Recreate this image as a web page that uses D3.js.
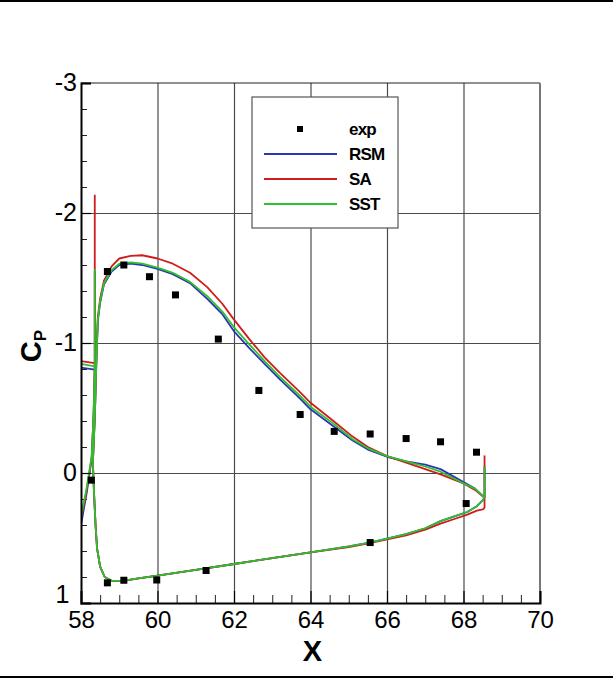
<!DOCTYPE html>
<html>
<head>
<meta charset="utf-8">
<script src="https://cdn.jsdelivr.net/npm/d3@7"></script>
<style>
  html, body { margin: 0; padding: 0; background: #fff; }
  svg { display: block; }
  .tick text { font-family: "Liberation Sans Narrow", "Arial Narrow", "Liberation Sans", Arial, sans-serif; }
</style>
</head>
<body>
<svg id="chart" width="613" height="679"></svg>
<script>
// ---- pressure coefficient data ----
// flap upper surface, trailing edge -> leading edge
const upperX   = [68.55, 68.3, 68.0, 67.4, 67.0, 66.5, 66.0, 65.5, 65.1, 64.6, 64.0, 63.7, 63.2, 62.8, 62.4, 62.0, 61.7, 61.3, 60.85, 60.4, 60.0, 59.6, 59.3, 59.0, 58.8, 58.6, 58.5, 58.44, 58.4, 58.36, 58.31];
const saUpper  = [0.19, 0.13, 0.08, 0.01, -0.03, -0.08, -0.13, -0.20, -0.28, -0.40, -0.54, -0.63, -0.77, -0.89, -1.03, -1.18, -1.30, -1.43, -1.54, -1.61, -1.65, -1.675, -1.67, -1.65, -1.59, -1.48, -1.34, -1.20, -0.85, -0.42, -0.08];
const sstUpper = [0.19, 0.12, 0.08, -0.01, -0.05, -0.09, -0.13, -0.19, -0.26, -0.38, -0.51, -0.60, -0.74, -0.86, -0.99, -1.12, -1.24, -1.36, -1.47, -1.54, -1.58, -1.61, -1.62, -1.61, -1.56, -1.46, -1.32, -1.18, -0.84, -0.42, -0.08];
const rsmUpper = [0.19, 0.12, 0.07, -0.03, -0.065, -0.09, -0.125, -0.18, -0.25, -0.36, -0.49, -0.58, -0.72, -0.84, -0.96, -1.09, -1.22, -1.34, -1.46, -1.53, -1.57, -1.60, -1.61, -1.60, -1.55, -1.45, -1.31, -1.17, -0.83, -0.42, -0.08];

// flap lower surface, leading edge -> trailing edge
const lowerX   = [58.31, 58.34, 58.38, 58.42, 58.5, 58.62, 58.8, 59.1, 59.5, 60.0, 61.0, 62.0, 63.0, 64.0, 65.0, 65.55, 66.0, 66.5, 67.0, 67.4, 67.8, 68.1, 68.35, 68.5, 68.55];
const saLower  = [-0.08, 0.15, 0.40, 0.58, 0.72, 0.80, 0.83, 0.83, 0.81, 0.79, 0.745, 0.70, 0.655, 0.61, 0.57, 0.54, 0.51, 0.48, 0.435, 0.39, 0.35, 0.32, 0.29, 0.28, 0.27];
const sstLower = [-0.08, 0.15, 0.40, 0.58, 0.72, 0.80, 0.83, 0.83, 0.81, 0.79, 0.745, 0.70, 0.655, 0.61, 0.565, 0.535, 0.505, 0.47, 0.425, 0.37, 0.33, 0.30, 0.255, 0.21, 0.19];
const rsmLower = [-0.08, 0.15, 0.40, 0.58, 0.72, 0.80, 0.83, 0.83, 0.81, 0.79, 0.745, 0.70, 0.655, 0.61, 0.565, 0.535, 0.505, 0.47, 0.425, 0.37, 0.33, 0.30, 0.255, 0.21, 0.19];

// flap trailing-edge segment [top, bottom]
const teX = 68.55;
const saTE  = [-0.135, 0.27];
const sstTE = [-0.05, 0.19];
const rsmTE = [-0.05, 0.19];

// main-element trailing edge region (upper branch ends in the leading-edge spike)
const mainUpperX   = [57.9, 58.36];
const saMainUpper  = [-0.865, -0.845];
const sstMainUpper = [-0.845, -0.82];
const rsmMainUpper = [-0.815, -0.795];
const spikeX = 58.36;
const saSpike  = -2.14;
const sstSpike = -1.57;
const rsmSpike = -1.55;
const mainLowerX   = [57.9, 58.0, 58.15, 58.28, 58.33, 58.36];
const saMainLower  = [0.46, 0.36, 0.13, -0.12, -0.45, -0.845];
const sstMainLower = [0.44, 0.34, 0.11, -0.13, -0.45, -0.82];
const rsmMainLower = [0.52, 0.40, 0.15, -0.11, -0.44, -0.795];

// experiment
const expX  = [58.27, 58.69, 59.12, 59.79, 60.47, 61.59, 62.65, 63.73, 64.62, 65.56, 66.5, 67.4, 68.34, 68.07, 65.56, 61.27, 59.98, 59.12, 58.69];
const expCp = [0.055, -1.55, -1.60, -1.51, -1.37, -1.03, -0.635, -0.45, -0.32, -0.30, -0.265, -0.24, -0.16, 0.235, 0.535, 0.75, 0.823, 0.825, 0.845];

// axes
const xTicks = [58, 60, 62, 64, 66, 68, 70];
const yTicks = [-3, -2, -1, 0, 1];
const seriesNames = ["RSM", "SA", "SST"];
const seriesColors = ["#2b35b5", "#d01c1c", "#2fbf2f"];

// ---- layout ----
const svg = d3.select("#chart");
const W = 613, H = 679;
const x = d3.scaleLinear().domain([58, 70]).range([81, 540]);
const y = d3.scaleLinear().domain([-3, 1]).range([83, 603]);
const [x0, x1] = x.range();
const [y0, y1] = y.range();
const plain = d => String(d);   // hyphen-minus, as on the plotted axes

// figure border lines
svg.append("line").attr("x1", 0).attr("x2", W).attr("y1", 1).attr("y2", 1).attr("stroke", "#000").attr("stroke-width", 2);
svg.append("line").attr("x1", 0).attr("x2", W).attr("y1", 677).attr("y2", 677).attr("stroke", "#000").attr("stroke-width", 2);

// grid
const grid = svg.append("g");
grid.append("g").attr("transform", `translate(0,${y1})`)
  .call(d3.axisBottom(x).tickValues(xTicks.slice(1, -1)).tickSize(-(y1 - y0)).tickFormat(""))
  .call(g => g.select(".domain").remove())
  .call(g => g.selectAll("line").attr("stroke", "#4a4a4a").attr("stroke-width", 1.2));
grid.append("g").attr("transform", `translate(${x0},0)`)
  .call(d3.axisLeft(y).tickValues(yTicks.slice(1, -1)).tickSize(-(x1 - x0)).tickFormat(""))
  .call(g => g.select(".domain").remove())
  .call(g => g.selectAll("line").attr("stroke", "#4a4a4a").attr("stroke-width", 1.2));

// minor ticks
svg.append("g").attr("transform", `translate(0,${y1})`)
  .call(d3.axisBottom(x).tickValues(d3.range(58.5, 70, 0.5).filter(v => v % 2 !== 0)).tickSize(-8).tickFormat(""))
  .call(g => g.select(".domain").remove())
  .call(g => g.selectAll("line").attr("stroke", "#222").attr("stroke-width", 1));
svg.append("g").attr("transform", `translate(${x0},0)`)
  .call(d3.axisLeft(y).tickValues(d3.range(-2.8, 1, 0.2).filter(v => Math.abs(v - Math.round(v)) > 0.05)).tickSize(-6).tickFormat(""))
  .call(g => g.select(".domain").remove())
  .call(g => g.selectAll("line").attr("stroke", "#222").attr("stroke-width", 1));

// plot frame
svg.append("line").attr("x1", x0).attr("x2", x1).attr("y1", y0).attr("y2", y0).attr("stroke", "#222").attr("stroke-width", 1.2);
svg.append("line").attr("x1", x1).attr("x2", x1).attr("y1", y0).attr("y2", y1).attr("stroke", "#777").attr("stroke-width", 2);

// curves
svg.append("clipPath").attr("id", "plotclip")
  .append("rect").attr("x", x0).attr("y", y0).attr("width", x1 - x0).attr("height", y1 - y0);
const line = d3.line().x(d => x(d[0])).y(d => y(d[1]));
const zip = (xs, ys) => xs.map((v, i) => [v, ys[i]]);

const series = [
  { up: rsmUpper, lo: rsmLower, te: rsmTE, mu: rsmMainUpper, sp: rsmSpike, ml: rsmMainLower },
  { up: saUpper,  lo: saLower,  te: saTE,  mu: saMainUpper,  sp: saSpike,  ml: saMainLower },
  { up: sstUpper, lo: sstLower, te: sstTE, mu: sstMainUpper, sp: sstSpike, ml: sstMainLower }
];

const curves = svg.append("g").attr("clip-path", "url(#plotclip)");
series.forEach((s, i) => {
  const g = curves.append("g").attr("fill", "none").attr("stroke", seriesColors[i])
    .attr("stroke-width", 1.8).attr("stroke-linejoin", "round");
  g.append("path").attr("d", line([[teX, s.te[0]], [teX, s.te[1]]]));
  g.append("path").attr("d", line(zip(upperX, s.up)));
  g.append("path").attr("d", line(zip(lowerX, s.lo)));
  g.append("path").attr("d", line(zip(mainUpperX, s.mu).concat([[spikeX, s.sp]])));
  g.append("path").attr("d", line(zip(mainLowerX, s.ml)));
});

// experimental points
svg.append("g").selectAll("rect").data(zip(expX, expCp)).join("rect")
  .attr("x", d => x(d[0]) - 3.5).attr("y", d => y(d[1]) - 3.5)
  .attr("width", 7).attr("height", 7).attr("fill", "#000");

// left and bottom axes with labels
svg.append("g").attr("transform", `translate(0,${y1})`)
  .call(d3.axisBottom(x).tickValues(xTicks).tickSize(-12).tickPadding(8).tickFormat(plain))
  .call(g => g.select(".domain").attr("stroke", "#000").attr("stroke-width", 2))
  .call(g => g.selectAll("line").attr("stroke", "#000").attr("stroke-width", 1.2))
  .call(g => g.selectAll("text").attr("font-size", 24).attr("fill", "#000").attr("dy", "0.72em"));
svg.append("g").attr("transform", `translate(${x0},0)`)
  .call(d3.axisLeft(y).tickValues(yTicks).tickSize(-10).tickPadding(4).tickFormat(plain))
  .call(g => g.select(".domain").attr("stroke", "#000").attr("stroke-width", 2))
  .call(g => g.selectAll("line").attr("stroke", "#000").attr("stroke-width", 1.2))
  .call(g => g.selectAll("text").attr("font-size", 25).attr("fill", "#000")
    .attr("dy", d => d === 1 ? "-0.02em" : "0.3em")
    .attr("dx", d => d === 1 ? "-0.3em" : 0));

// axis titles
svg.append("text").attr("x", (x0 + x1) / 2 + 2).attr("y", 661)
  .attr("text-anchor", "middle").attr("font-family", "Liberation Sans, Arial, sans-serif")
  .attr("font-weight", "bold").attr("font-size", 29).text("X");
const yt = svg.append("text").attr("transform", "translate(41,346) rotate(-90)")
  .attr("text-anchor", "middle").attr("font-family", "Liberation Sans, Arial, sans-serif")
  .attr("font-weight", "bold").attr("font-size", 29);
yt.append("tspan").text("C");
yt.append("tspan").attr("font-size", 17).attr("dy", 5).text("P");

// legend
const lg = svg.append("g");
lg.append("rect").attr("x", 252).attr("y", 97).attr("width", 146).attr("height", 131)
  .attr("fill", "#fff").attr("stroke", "#555").attr("stroke-width", 1.2);
const legendRows = [{ name: "exp", type: "point" }].concat(seriesNames.map((n, i) => ({ name: n, type: "line", color: seriesColors[i] })));
legendRows.forEach((r, i) => {
  const cy = 129 + i * 25;
  if (r.type === "point") {
    lg.append("rect").attr("x", 297).attr("y", cy - 3).attr("width", 6).attr("height", 6).attr("fill", "#000");
  } else {
    lg.append("line").attr("x1", 264).attr("x2", 337).attr("y1", cy).attr("y2", cy)
      .attr("stroke", r.color).attr("stroke-width", 1.8);
  }
  lg.append("text").attr("x", 349).attr("y", cy + 6)
    .attr("font-family", "Liberation Sans, Arial, sans-serif").attr("font-weight", "bold")
    .attr("font-size", 17).attr("letter-spacing", -0.8).text(r.name);
});
</script>
</body>
</html>
